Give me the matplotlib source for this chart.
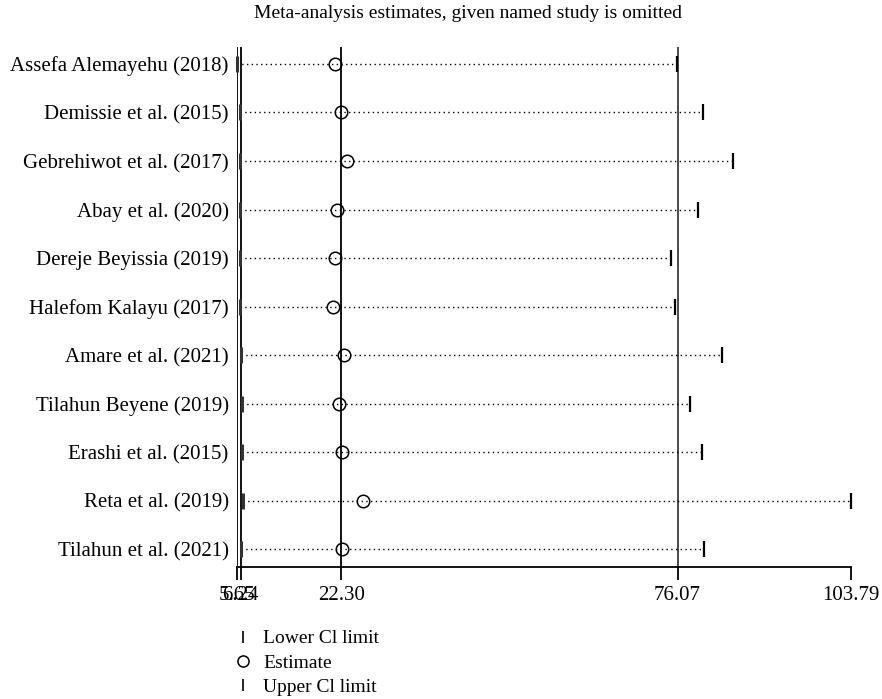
import matplotlib
matplotlib.use("Agg")
import matplotlib.pyplot as plt
from matplotlib.lines import Line2D

plt.rcParams["font.family"] = ["Liberation Serif", "DejaVu Serif"]

studies = [
    "Assefa Alemayehu (2018)",
    "Demissie et al. (2015)",
    "Gebrehiwot et al. (2017)",
    "Abay et al. (2020)",
    "Dereje Beyissia (2019)",
    "Halefom Kalayu (2017)",
    "Amare et al. (2021)",
    "Tilahun Beyene (2019)",
    "Erashi et al. (2015)",
    "Reta et al. (2019)",
    "Tilahun et al. (2021)",
]
estimate = [21.34, 22.30, 23.26, 21.66, 21.34, 21.02, 22.78, 21.98, 22.46, 25.82, 22.46]
lower = [5.65, 6.05, 6.20, 6.10, 6.15, 6.20, 6.30, 6.45, 6.45, 6.55, 6.25]
upper = [76.0, 80.2, 84.9, 79.3, 74.95, 75.6, 83.1, 78.0, 79.9, 103.79, 80.3]

overall_lower = 6.24
overall_est = 22.30
overall_upper = 76.07
min_lower = 5.65
max_upper = 103.79

tick_vals = [min_lower, overall_lower, overall_est, overall_upper, max_upper]
tick_labels = ["5.65", "6.24", "22.30", "76.07", "103.79"]

fig = plt.figure(figsize=(8.82, 6.99), dpi=100)
ax = fig.add_axes([237 / 882, 1 - 567 / 699, 614 / 882, 520 / 699])

n = len(studies)
ypos = [n - i for i in range(n)]

# reference lines: min lower, overall CI and pooled estimate
for v, c, w in [(min_lower, "black", 1.3), (overall_lower, "black", 1.3),
                (overall_est, "black", 1.3), (overall_upper, "#4a4a4a", 1.4)]:
    ax.axvline(v, color=c, lw=w, zorder=1)

for y, lo, est, hi in zip(ypos, lower, estimate, upper):
    ax.plot([lo, hi], [y, y], ls=(0, (1, 2.4)), color="black", lw=1.0, zorder=2)
    ax.plot([lo], [y], marker="|", ms=12, mew=2.2, color="#333333", zorder=3, clip_on=False)
    ax.plot([hi], [y], marker="|", ms=12, mew=1.6, color="black", zorder=3, clip_on=False)
    ax.plot([est], [y], marker="o", ms=9, mfc="none", mec="black", mew=1.1, zorder=4)

ax.set_xlim(min_lower, max_upper)
ax.set_ylim(0.63, 11.35)
ax.set_yticks(ypos)
ax.set_yticklabels(studies, fontsize=15)
ax.tick_params(axis="y", length=0, pad=6)
ax.set_xticks(tick_vals)
ax.set_xticklabels(tick_labels, fontsize=15)
ax.tick_params(axis="x", length=9, width=1.3, direction="out", pad=5)

for s in ["top", "right", "left"]:
    ax.spines[s].set_visible(False)
ax.spines["bottom"].set_linewidth(1.3)

fig.text(468 / 882, 1 - 14 / 699, "Meta-analysis estimates, given named study is omitted",
         ha="center", va="center", fontsize=14)

handles = [
    Line2D([], [], ls="none", marker="|", ms=9, mew=1.2, color="black"),
    Line2D([], [], ls="none", marker="o", ms=8, mfc="none", mec="black", mew=1.1),
    Line2D([], [], ls="none", marker="|", ms=9, mew=1.2, color="black"),
]
fig.legend(handles, ["Lower Cl limit", "Estimate", "Upper Cl limit"],
           loc="upper left", bbox_to_anchor=(225 / 882, 1 - 622 / 699),
           frameon=False, fontsize=14, handlelength=1.0, handletextpad=0.55,
           labelspacing=0.35, borderaxespad=0)

fig.savefig("out.png", dpi=100)
